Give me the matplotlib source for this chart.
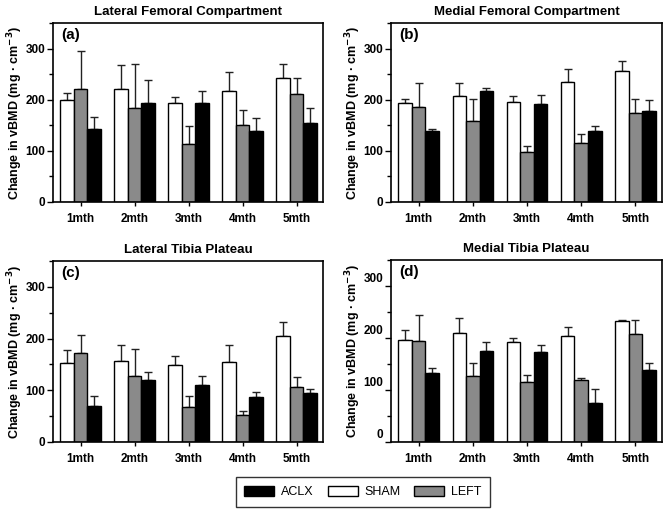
import numpy as np
import matplotlib
matplotlib.use('Agg')
import matplotlib.pyplot as plt
from matplotlib.patches import Patch
from matplotlib.ticker import MultipleLocator
import matplotlib.transforms as mtransforms

plt.rcParams['font.family'] = ['Liberation Sans', 'DejaVu Sans']

months = ['1mth', '2mth', '3mth', '4mth', '5mth']
groups = ['SHAM', 'LEFT', 'ACLX']
colors = {'SHAM': 'white', 'LEFT': '#8a8a8a', 'ACLX': 'black'}

# means and upper error (SD) for each panel
lat_fem = {
    'SHAM': [199, 221, 194, 217, 242],
    'LEFT': [220, 183, 114, 150, 211],
    'ACLX': [143, 194, 194, 138, 155],
}
lat_fem_err = {
    'SHAM': [14, 47, 11, 37, 27],
    'LEFT': [75, 87, 34, 29, 32],
    'ACLX': [23, 45, 23, 27, 28],
}
med_fem = {
    'SHAM': [194, 207, 195, 234, 257],
    'LEFT': [185, 159, 98, 115, 175],
    'ACLX': [138, 218, 192, 139, 177],
}
med_fem_err = {
    'SHAM': [8, 26, 12, 27, 18],
    'LEFT': [47, 42, 12, 17, 26],
    'ACLX': [5, 5, 18, 10, 22],
}
lat_tib = {
    'SHAM': [152, 157, 148, 154, 205],
    'LEFT': [172, 128, 67, 53, 106],
    'ACLX': [69, 120, 110, 87, 94],
}
lat_tib_err = {
    'SHAM': [25, 31, 19, 34, 27],
    'LEFT': [35, 51, 22, 6, 19],
    'ACLX': [20, 15, 17, 10, 9],
}
med_tib = {
    'SHAM': [196, 210, 193, 203, 232],
    'LEFT': [195, 126, 116, 120, 207],
    'ACLX': [132, 175, 174, 75, 138],
}
med_tib_err = {
    'SHAM': [19, 29, 7, 19, 3],
    'LEFT': [50, 26, 13, 3, 27],
    'ACLX': [10, 18, 13, 26, 14],
}

panels = [
    ('Lateral Femoral Compartment', '(a)', lat_fem, lat_fem_err),
    ('Medial Femoral Compartment', '(b)', med_fem, med_fem_err),
    ('Lateral Tibia Plateau', '(c)', lat_tib, lat_tib_err),
    ('Medial Tibia Plateau', '(d)', med_tib, med_tib_err),
]

W, H = 667, 516
fig = plt.figure(figsize=(W / 100, H / 100), dpi=100)

# axes boxes in pixels: left, top, right, bottom
boxes = [
    (53, 23, 323, 202),
    (391, 23, 662, 202),
    (53, 261, 323, 442),
    (391, 260, 662, 442),
]

x = np.arange(len(months))
bw = 0.25

for i, (title, letter, vals, errs) in enumerate(panels):
    l, t, r, b = boxes[i]
    ax = fig.add_axes([l / W, 1 - b / H, (r - l) / W, (b - t) / H])
    for j, g in enumerate(groups):
        pos = x + (j - 1) * bw
        v = np.array(vals[g])
        e = np.array(errs[g])
        ax.bar(pos, v, width=bw, color=colors[g], edgecolor='black',
               linewidth=1.0, zorder=2)
        ax.errorbar(pos, v, yerr=[np.zeros_like(e), e], fmt='none',
                    ecolor='#222222', elinewidth=1.0, capsize=2.6,
                    capthick=1.0, zorder=1)
    ax.set_xlim(-0.51, 4.49)
    ax.set_ylim(0, 350)
    ax.set_xticks(x)
    ax.set_xticklabels(months, fontsize=8.5, fontweight='bold')
    ax.yaxis.set_major_locator(MultipleLocator(100))
    ax.yaxis.set_minor_locator(MultipleLocator(50))
    ax.tick_params(axis='y', which='major', length=4, width=1, labelsize=8.5,
                   direction='out', pad=1.5)
    ax.tick_params(axis='y', which='minor', length=3, width=1, direction='out')
    ax.tick_params(axis='x', length=3, width=1, direction='out', pad=5)
    for lab in ax.get_yticklabels():
        lab.set_fontweight('bold')
    for s in ax.spines.values():
        s.set_linewidth(1.2)
    ax.set_title(title, fontsize=9.5, fontweight='bold', pad=6)
    ax.set_ylabel('Change in vBMD (mg \u00b7 cm$^{\\mathbf{-3}}$)',
                  fontsize=9, fontweight='bold', labelpad=0.5)
    ax.text(0.03, 0.97, letter, transform=ax.transAxes, fontsize=11,
            fontweight='bold', va='top', ha='left')
    if letter == '(d)':
        # tick labels in this panel sit a little above their ticks
        off = mtransforms.ScaledTranslation(0, 8 / 100, fig.dpi_scale_trans)
        for lab in ax.get_yticklabels():
            lab.set_transform(lab.get_transform() + off)

handles = [
    Patch(facecolor='black', edgecolor='black', label='ACLX'),
    Patch(facecolor='white', edgecolor='black', label='SHAM'),
    Patch(facecolor='#8a8a8a', edgecolor='black', label='LEFT'),
]
leg = fig.legend(handles=handles, loc='center',
                 bbox_to_anchor=(363 / W, 1 - 492 / H), ncol=3,
                 fontsize=9, frameon=True, fancybox=False,
                 handlelength=2.4, handleheight=0.9, columnspacing=1.1,
                 handletextpad=0.55, borderpad=0.7, borderaxespad=0)
leg.get_frame().set_edgecolor('black')
leg.get_frame().set_linewidth(1.0)

fig.savefig('out.png', dpi=100)
